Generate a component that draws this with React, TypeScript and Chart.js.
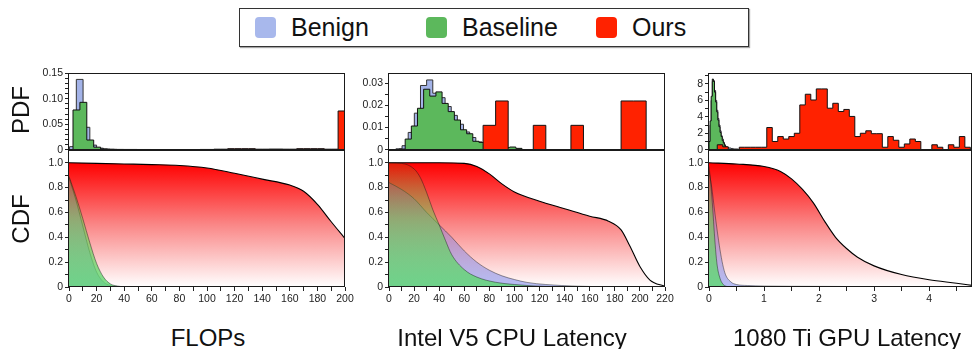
import React, { useEffect, useRef } from 'react';
import { Chart, registerables } from 'chart.js';

Chart.register(...registerables);

const FONT = '"Liberation Sans", Arial, Helvetica, sans-serif';

// ---------------- Legend / titles ----------------
const SERIES_NAMES = ['Benign', 'Baseline', 'Ours'];
const SERIES_COLORS = ['#a8b8ec', '#5cb85c', '#ff2200'];
const PANEL_TITLES = ['FLOPs', 'Intel V5 CPU Latency', '1080 Ti GPU Latency'];

// ---------------- Panel 1 : FLOPs ----------------
const F_BENIGN_EDGES = [0.4, 5.3, 10.2, 15.1, 20, 24.9, 29.8, 34.7, 39.6, 44.5, 49.4, 54.3, 59.2, 64.1, 69, 73.9];
const F_BENIGN_PDF = [0.006, 0.138, 0.044, 0.009, 0.003, 0.0012, 0.0008, 0.0006, 0.0005, 0.0005, 0.0004, 0.0004, 0.0003, 0.0003, 0.0002];
const F_BASE_EDGES = [2.9, 7.9, 12.9, 17.9, 22.9, 27.9, 32.9, 37.9];
const F_BASE_PDF = [0.078, 0.093, 0.019, 0.005, 0.0015, 0.0007, 0.0003];
const F_OURS_EDGES = [95, 100, 105, 110, 115, 120, 125, 130, 135, 140, 145, 150, 155, 160, 165, 170, 175, 180, 185, 190, 195, 200];
const F_OURS_PDF = [0.0005, 0.0005, 0.001, 0.001, 0.002, 0.002, 0.002, 0.002, 0.001, 0.001, 0.0012, 0.0012, 0.001, 0.001, 0.002, 0.002, 0.002, 0.002, 0.001, 0.001, 0.076];

const F_CDF_X_OURS = [0, 20, 40, 60, 80, 100, 120, 140, 160, 170, 180, 190, 200];
const F_CDF_OURS = [1.0, 0.995, 0.99, 0.985, 0.978, 0.958, 0.915, 0.868, 0.82, 0.77, 0.665, 0.525, 0.39];
const F_CDF_X = [0, 5, 10, 15, 20, 25, 30, 35, 40, 50, 200];
const F_CDF_BASE = [0.89, 0.73, 0.55, 0.36, 0.19, 0.08, 0.025, 0.008, 0.002, 0, 0];
const F_CDF_BENIGN = [0.88, 0.7, 0.49, 0.28, 0.12, 0.04, 0.012, 0.004, 0.001, 0, 0];

const F_X_MAJOR = [0, 20, 40, 60, 80, 100, 120, 140, 160, 180, 200];
const F_X_LABELS = ['0', '20', '40', '60', '80', '100', '120', '140', '160', '180', '200'];
const F_PDF_MAJOR = [0, 0.05, 0.1, 0.15];
const F_PDF_LABELS = ['0', '0.05', '0.10', '0.15'];

// ---------------- Panel 2 : Intel V5 CPU Latency ----------------
const C_BENIGN_EDGES = [5.5, 10.4, 15.3, 20.2, 25.1, 30, 34.9, 39.8, 44.7, 49.6, 54.5, 59.4, 64.3, 69.2, 74.1, 79, 83.9, 88.8, 93.7];
const C_BENIGN_PDF = [0.0004, 0.0018, 0.0078, 0.0165, 0.029, 0.0315, 0.0255, 0.0235, 0.0195, 0.0155, 0.0115, 0.008, 0.0055, 0.0035, 0.0022, 0.0015, 0.001, 0.0008];
const C_BASE_EDGES = [8, 12.9, 17.8, 22.7, 27.6, 32.5, 37.4, 42.3, 47.2, 52.1, 57, 61.9, 66.8, 71.7, 76.6, 81.5, 86.4, 91.3, 96.2, 101.1, 106];
const C_BASE_PDF = [0.0003, 0.0048, 0.0107, 0.0187, 0.0273, 0.0242, 0.0261, 0.0209, 0.0172, 0.0134, 0.009, 0.0072, 0.0038, 0.0033, 0.002, 0.0015, 0.0012, 0.001, 0.0012, 0.0006];
const C_OURS_EDGES = [75, 85, 95, 105, 115, 125, 135, 145, 155, 165, 175, 185, 195, 205];
const C_OURS_PDF = [0.011, 0.022, 0, 0, 0.011, 0, 0, 0.011, 0, 0, 0, 0.022, 0.022];

const C_CDF_X_OURS = [0, 20, 40, 60, 70, 80, 90, 100, 120, 140, 160, 175, 185, 192, 200, 208, 220];
const C_CDF_OURS = [1, 1, 1, 0.995, 0.97, 0.91, 0.83, 0.765, 0.69, 0.63, 0.57, 0.53, 0.46, 0.33, 0.165, 0.056, 0.005];
const C_CDF_X_BASE = [0, 10, 20, 25, 30, 35, 40, 45, 50, 60, 70, 85, 100, 120, 140, 160, 220];
const C_CDF_BASE = [1.0, 0.995, 0.95, 0.88, 0.76, 0.62, 0.5, 0.375, 0.26, 0.14, 0.08, 0.038, 0.02, 0.007, 0.002, 0, 0];
const C_CDF_X_BENIGN = [0, 10, 20, 30, 40, 50, 60, 70, 80, 90, 100, 110, 125, 150, 175, 220];
const C_CDF_BENIGN = [0.84, 0.785, 0.71, 0.6, 0.5, 0.4, 0.29, 0.2, 0.135, 0.09, 0.06, 0.037, 0.02, 0.007, 0.002, 0];

const C_X_MAJOR = [0, 20, 40, 60, 80, 100, 120, 140, 160, 180, 200, 220];
const C_X_LABELS = ['0', '20', '40', '60', '80', '100', '120', '140', '160', '180', '200', '220'];
const C_PDF_MAJOR = [0, 0.01, 0.02, 0.03];
const C_PDF_LABELS = ['0', '0.01', '0.02', '0.03'];

// ---------------- Panel 3 : 1080 Ti GPU Latency ----------------
const G_BENIGN_EDGES = [0, 0.02, 0.04, 0.06, 0.08, 0.1, 0.12, 0.14, 0.16, 0.18, 0.2, 0.22, 0.24, 0.26, 0.28, 0.3, 0.32, 0.34, 0.36, 0.38, 0.4, 0.42, 0.44, 0.46, 0.48, 0.5, 0.52, 0.54, 0.56];
const G_BENIGN_PDF = [0.8, 3.0, 6.0, 8.3, 8.4, 7.2, 6.0, 4.8, 3.8, 3.0, 2.3, 1.7, 1.3, 0.9, 0.6, 0.4, 0.3, 0.25, 0.2, 0.2, 0.15, 0.15, 0.1, 0.1, 0.1, 0.1, 0.05, 0.05];
const G_BASE_EDGES = [0, 0.02, 0.04, 0.06, 0.08, 0.1, 0.12, 0.14, 0.16, 0.18, 0.2, 0.22, 0.24, 0.26, 0.28, 0.3, 0.32, 0.34];
const G_BASE_PDF = [1.0, 3.5, 6.5, 8.6, 8.3, 7.0, 5.8, 4.6, 3.6, 2.8, 2.1, 1.6, 1.1, 0.8, 0.5, 0.25, 0.1];
const G_OURS_EDGES = [0.15, 0.25, 0.35, 0.45, 0.55, 0.65, 0.75, 0.85, 0.95, 1.05, 1.15, 1.25, 1.35, 1.45, 1.55, 1.65, 1.75, 1.85, 1.95, 2.05, 2.15, 2.25, 2.35, 2.45, 2.55, 2.65, 2.75, 2.85, 2.95, 3.05, 3.15, 3.25, 3.35, 3.45, 3.55, 3.65, 3.75, 3.85, 3.95, 4.05, 4.15, 4.25, 4.35, 4.45, 4.55, 4.65, 4.75];
const G_OURS_PDF = [0.6, 0.35, 0, 0, 0.3, 0.3, 0.3, 0.3, 0.3, 2.7, 1.0, 1.6, 1.3, 1.6, 2.0, 5.45, 6.75, 6.05, 7.4, 7.4, 5.05, 5.65, 4.65, 4.9, 4.05, 1.6, 2.0, 2.3, 1.95, 1.95, 0.3, 1.6, 1.15, 0.3, 0.7, 1.3, 1.0, 0, 0, 0.6, 0.3, 0, 0.6, 0.3, 1.6, 0.3];

const G_CDF_X_OURS = [0, 0.5, 1.0, 1.3, 1.5, 1.7, 1.9, 2.1, 2.3, 2.5, 2.7, 3.0, 3.5, 4.0, 4.5, 4.8];
const G_CDF_OURS = [1.0, 0.99, 0.97, 0.93, 0.87, 0.785, 0.675, 0.53, 0.4, 0.31, 0.24, 0.17, 0.1, 0.058, 0.03, 0.012];
const G_CDF_X_BASE = [0, 0.03, 0.06, 0.09, 0.12, 0.15, 0.2, 0.25, 0.3, 0.4, 4.8];
const G_CDF_BASE = [0.97, 0.85, 0.68, 0.48, 0.3, 0.17, 0.07, 0.025, 0.008, 0, 0];
const G_CDF_X_BENIGN = [0, 0.05, 0.1, 0.15, 0.2, 0.25, 0.3, 0.4, 0.5, 0.7, 1.0, 2, 3, 4.8];
const G_CDF_BENIGN = [0.93, 0.8, 0.62, 0.45, 0.3, 0.18, 0.1, 0.04, 0.02, 0.012, 0.008, 0.005, 0.003, 0.001];

const G_X_MAJOR = [0, 1, 2, 3, 4];
const G_X_LABELS = ['0', '1', '2', '3', '4'];
const G_PDF_MAJOR = [0, 2, 4, 6, 8];
const G_PDF_LABELS = ['0', '2', '4', '6', '8'];

// ---------------- CDF y axis ----------------
const CDF_Y_MAJOR = [0, 0.2, 0.4, 0.6, 0.8, 1.0];
const CDF_Y_LABELS = ['0', '0.2', '0.4', '0.6', '0.8', '1.0'];

// ---------------- layout ----------------
const YW = 44;
const PT = 8;
const PDF_TOP = 73;
const PDF_BOTTOM = 150;
const CDF_TOP = 150;
const CDF_BOTTOM = 287;
const XH = 22;

type XY = { x: number; y: number };

function histPoints(edges: number[], values: number[]): XY[] {
  const pts: XY[] = [{ x: edges[0], y: 0 }];
  values.forEach((v, i) => pts.push({ x: edges[i], y: v }));
  pts.push({ x: edges[edges.length - 1], y: 0 });
  return pts;
}

function curvePoints(xs: number[], ys: number[]): XY[] {
  return xs.map((x, i) => ({ x, y: ys[i] }));
}

type Panel = {
  left: number; right: number;
  xMax: number; xStep: number; xMajor: number[]; xLabels: string[];
  pdfMax: number; pdfStep: number; pdfMajor: number[]; pdfLabels: string[];
  benignH: [number[], number[]]; baseH: [number[], number[]]; oursH: [number[], number[]];
  benignC: [number[], number[]]; baseC: [number[], number[]]; oursC: [number[], number[]];
};

const PANELS: Panel[] = [
  {
    left: 69, right: 345, xMax: 200, xStep: 10, xMajor: F_X_MAJOR, xLabels: F_X_LABELS,
    pdfMax: 0.15, pdfStep: 0.01, pdfMajor: F_PDF_MAJOR, pdfLabels: F_PDF_LABELS,
    benignH: [F_BENIGN_EDGES, F_BENIGN_PDF], baseH: [F_BASE_EDGES, F_BASE_PDF], oursH: [F_OURS_EDGES, F_OURS_PDF],
    benignC: [F_CDF_X, F_CDF_BENIGN], baseC: [F_CDF_X, F_CDF_BASE], oursC: [F_CDF_X_OURS, F_CDF_OURS],
  },
  {
    left: 389, right: 665, xMax: 220, xStep: 10, xMajor: C_X_MAJOR, xLabels: C_X_LABELS,
    pdfMax: 0.0345, pdfStep: 0.005, pdfMajor: C_PDF_MAJOR, pdfLabels: C_PDF_LABELS,
    benignH: [C_BENIGN_EDGES, C_BENIGN_PDF], baseH: [C_BASE_EDGES, C_BASE_PDF], oursH: [C_OURS_EDGES, C_OURS_PDF],
    benignC: [C_CDF_X_BENIGN, C_CDF_BENIGN], baseC: [C_CDF_X_BASE, C_CDF_BASE], oursC: [C_CDF_X_OURS, C_CDF_OURS],
  },
  {
    left: 709, right: 709 + 4.78 * 55, xMax: 4.78, xStep: 0.5, xMajor: G_X_MAJOR, xLabels: G_X_LABELS,
    pdfMax: 9.3, pdfStep: 1, pdfMajor: G_PDF_MAJOR, pdfLabels: G_PDF_LABELS,
    benignH: [G_BENIGN_EDGES, G_BENIGN_PDF], baseH: [G_BASE_EDGES, G_BASE_PDF], oursH: [G_OURS_EDGES, G_OURS_PDF],
    benignC: [G_CDF_X_BENIGN, G_CDF_BENIGN], baseC: [G_CDF_X_BASE, G_CDF_BASE], oursC: [G_CDF_X_OURS, G_CDF_OURS],
  },
];

function tickFmt(major: number[], labels: string[], step: number) {
  return (v: number | string) => {
    const n = Number(v);
    const i = major.findIndex((m) => Math.abs(m - n) < step * 1e-3);
    return i >= 0 ? labels[i] : '';
  };
}

function axis(pos: 'left' | 'bottom', max: number, step: number, major: number[], labels: string[], fit: number, limit: number) {
  return {
    type: 'linear' as const,
    position: pos,
    min: 0,
    max,
    afterFit: (s: any) => {
      if (pos === 'left') s.width = fit;
      else s.height = fit;
    },
    border: { display: false },
    grid: {
      display: true,
      drawOnChartArea: false,
      drawTicks: true,
      tickLength: 4,
      tickWidth: 1,
      color: 'rgba(0,0,0,0)',
      tickColor: (c: any) => (c.tick && c.tick.value > limit + 1e-9 ? 'rgba(0,0,0,0)' : '#222'),
    },
    ticks: {
      stepSize: step,
      autoSkip: false,
      maxRotation: 0,
      minRotation: 0,
      includeBounds: false,
      padding: 2,
      color: '#222',
      font: { family: FONT, size: 10.5 },
      callback: tickFmt(major, labels, step),
    },
  };
}

const boxPlugin = {
  id: 'boxFrame',
  afterDraw(chart: any) {
    const { ctx, chartArea: a } = chart;
    ctx.save();
    ctx.strokeStyle = '#1a1a1a';
    ctx.lineWidth = 1;
    const l = Math.round(a.left) - 0.5;
    const t = Math.round(a.top) + 0.5;
    const r = Math.round(a.right) - 0.5;
    const b = Math.round(a.bottom) - 0.5;
    ctx.strokeRect(l, t, r - l, b - t);
    ctx.restore();
  },
};

function vGrad(stops: [number, string][]) {
  return (c: any) => {
    const chart = c.chart;
    if (!chart.chartArea) return 'rgba(0,0,0,0)';
    const y = chart.scales.y;
    const g = chart.ctx.createLinearGradient(0, y.getPixelForValue(1), 0, y.getPixelForValue(0));
    stops.forEach(([o, col]) => g.addColorStop(o, col));
    return g;
  };
}

function pdfGeom(p: Panel) {
  const left = p.left - YW;
  const top = PDF_TOP - PT;
  const width = YW + (p.right - p.left) + 4;
  const height = PT + (PDF_BOTTOM - PDF_TOP) + 8;
  return { left, top, width: Math.round(width), height };
}

function cdfGeom(p: Panel) {
  const left = p.left - YW;
  const top = CDF_TOP - PT;
  const width = YW + (p.right - p.left) + 16;
  const height = PT + (CDF_BOTTOM - CDF_TOP) + XH;
  return { left, top, width: Math.round(width), height };
}

function histDs(h: [number[], number[]], fillColor: string, border: string) {
  return {
    data: histPoints(h[0], h[1]),
    stepped: 'before' as const,
    fill: 'origin',
    backgroundColor: fillColor,
    borderColor: border,
    borderWidth: 1,
    pointRadius: 0,
    tension: 0,
  };
}

function pdfConfig(p: Panel): any {
  return {
    type: 'line',
    data: {
      datasets: [
        histDs(p.oursH, '#ff2200', '#111'),
        histDs(p.baseH, '#5cb85c', '#111'),
        histDs(p.benignH, '#a3b3e8', '#333'),
      ],
    },
    options: {
      responsive: false,
      animation: false,
      devicePixelRatio: 1,
      events: [],
      layout: { padding: { top: PT, right: 4, bottom: 8, left: 0 } },
      plugins: { legend: { display: false }, tooltip: { enabled: false } },
      scales: {
        x: { type: 'linear', min: 0, max: p.xMax, display: false },
        y: axis('left', p.pdfMax, p.pdfStep, p.pdfMajor, p.pdfLabels, YW, p.pdfMax),
      },
    },
    plugins: [boxPlugin],
  };
}

function cdfDs(c: [number[], number[]], bg: any, border: string, bw: number) {
  return {
    data: curvePoints(c[0], c[1]),
    fill: 'origin',
    backgroundColor: bg,
    borderColor: border,
    borderWidth: bw,
    pointRadius: 0,
    cubicInterpolationMode: 'monotone' as const,
  };
}

function cdfConfig(p: Panel): any {
  return {
    type: 'line',
    data: {
      datasets: [
        cdfDs(p.baseC, vGrad([[0, 'rgba(60,190,40,0.12)'], [0.45, 'rgba(90,215,70,0.5)'], [1, 'rgba(95,215,115,0.82)']]), 'rgba(20,20,20,0.55)', 0.8),
        cdfDs(p.benignC, vGrad([[0, 'rgba(90,110,240,0.15)'], [1, 'rgba(120,135,235,0.55)']]), 'rgba(20,20,20,0.55)', 0.8),
        cdfDs(p.oursC, vGrad([[0, 'rgb(255,0,0)'], [0.5, 'rgb(250,135,135)'], [1, 'rgb(255,255,255)']]), '#000', 1.1),
      ],
    },
    options: {
      responsive: false,
      animation: false,
      devicePixelRatio: 1,
      events: [],
      layout: { padding: { top: PT, right: 16, bottom: 0, left: 0 } },
      plugins: { legend: { display: false }, tooltip: { enabled: false } },
      scales: {
        x: axis('bottom', p.xMax, p.xStep, p.xMajor, p.xLabels, XH, p.xMax),
        y: axis('left', 1.1, 0.1, CDF_Y_MAJOR, CDF_Y_LABELS, YW, 1.0),
      },
    },
    plugins: [boxPlugin],
  };
}

const TITLE_CENTERS = [208, 512, 847];
const LEGEND_SWATCH_X = [255, 426, 596];
const LEGEND_TEXT_X = [291, 462, 632];

export default function App() {
  const refs = useRef<(HTMLCanvasElement | null)[]>([]);

  useEffect(() => {
    const charts: Chart[] = [];
    PANELS.forEach((p, i) => {
      const a = refs.current[2 * i];
      const b = refs.current[2 * i + 1];
      if (a) charts.push(new Chart(a, pdfConfig(p)));
      if (b) charts.push(new Chart(b, cdfConfig(p)));
    });
    return () => charts.forEach((c) => c.destroy());
  }, []);

  return (
    <div style={{ position: 'fixed', left: 0, top: 0, width: 972, height: 349, overflow: 'hidden', background: '#fff', fontFamily: FONT }}>
      {PANELS.map((p, i) => {
        const g1 = pdfGeom(p);
        const g2 = cdfGeom(p);
        return (
          <React.Fragment key={i}>
            <canvas
              ref={(el) => { refs.current[2 * i] = el; }}
              width={g1.width}
              height={g1.height}
              style={{ position: 'absolute', left: g1.left, top: g1.top, width: g1.width, height: g1.height }}
            />
            <canvas
              ref={(el) => { refs.current[2 * i + 1] = el; }}
              width={g2.width}
              height={g2.height}
              style={{ position: 'absolute', left: g2.left, top: g2.top, width: g2.width, height: g2.height }}
            />
          </React.Fragment>
        );
      })}

      {PANEL_TITLES.map((t, i) => (
        <div key={t} style={{ position: 'absolute', left: TITLE_CENTERS[i], top: 326, transform: 'translateX(-50%)', whiteSpace: 'nowrap', fontSize: 24, lineHeight: '24px', color: '#111' }}>
          {t}
        </div>
      ))}

      {['PDF', 'CDF'].map((t, i) => (
        <div key={t} style={{ position: 'absolute', left: 21, top: i === 0 ? 110 : 219, transform: 'translate(-50%, -50%) rotate(-90deg)', whiteSpace: 'nowrap', fontSize: 24, lineHeight: '24px', color: '#111' }}>
          {t}
        </div>
      ))}

      <div style={{ position: 'absolute', left: 239, top: 8, width: 510, height: 39, boxSizing: 'border-box', border: '1px solid #333', boxShadow: '1px 1px 1px rgba(0,0,0,0.35)', background: '#fff' }} />
      {SERIES_NAMES.map((n, i) => (
        <React.Fragment key={n}>
          <div style={{ position: 'absolute', left: LEGEND_SWATCH_X[i], top: 17, width: 21, height: 21, borderRadius: 4, background: SERIES_COLORS[i] }} />
          <div style={{ position: 'absolute', left: LEGEND_TEXT_X[i], top: 15, fontSize: 25, lineHeight: '25px', whiteSpace: 'nowrap', color: '#111' }}>{n}</div>
        </React.Fragment>
      ))}
    </div>
  );
}
